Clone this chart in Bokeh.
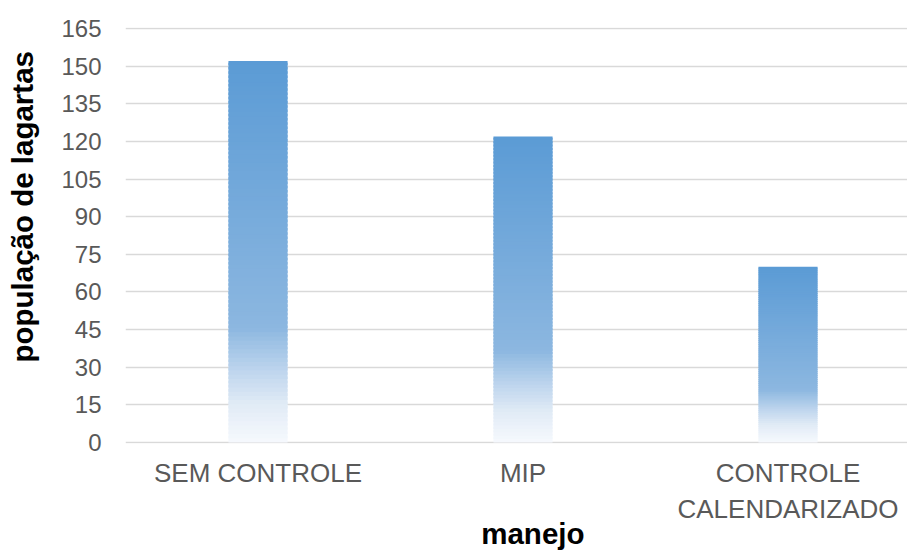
from bokeh.plotting import figure
from bokeh.models import Range1d, FixedTicker, ColumnDataSource
from bokeh.embed import file_html
from bokeh.resources import INLINE

# ---- data ----
categories = ["SEM CONTROLE", "MIP", "CONTROLE\nCALENDARIZADO"]
values = [152, 122, 70]
y_ticks = [0, 15, 30, 45, 60, 75, 90, 105, 120, 135, 150, 165]
x_title = "manejo"
y_title = "população de lagartas"

# ---- style: gradient stops (fraction from top of bar -> rgb) ----
stops = [(0.0, (91, 155, 213)), (0.70, (140, 183, 224)), (0.80, (185, 210, 236)),
         (0.90, (225, 235, 246)), (1.0, (246, 249, 253))]

def grad(f):
    for (f0, c0), (f1, c1) in zip(stops[:-1], stops[1:]):
        if f0 <= f <= f1:
            t = (f - f0) / (f1 - f0) if f1 > f0 else 0
            return "#%02x%02x%02x" % tuple(int(round(a + (b - a) * t)) for a, b in zip(c0, c1))
    return "#%02x%02x%02x" % stops[-1][1]

xs = [i + 0.5 for i in range(len(categories))]
N = 90
bx, bb, bt, bc = [], [], [], []
for x, v in zip(xs, values):
    for i in range(N):
        bot = v * i / N
        top = min(v, v * (i + 1.6) / N)
        bx.append(x); bb.append(bot); bt.append(top)
        bc.append(grad(1 - (i + 0.5) / N))
src = ColumnDataSource(dict(x=bx, bottom=bb, top=bt, color=bc))

W, H = 907, 552
NB = "\u00a0"
p = figure(width=W, height=H, output_backend="svg", toolbar_location=None,
           x_range=Range1d(0, 782 / 265.0), y_range=Range1d(-0.4, 165.4),
           min_border_left=125, min_border_right=0, min_border_top=27, min_border_bottom=109)
p.outline_line_color = None
p.background_fill_color = "white"
p.border_fill_color = "white"

p.vbar(x="x", bottom="bottom", top="top", width=0.223, color="color",
       line_color=None, source=src)

# axes
p.yaxis.ticker = FixedTicker(ticks=y_ticks)
p.xaxis.ticker = FixedTicker(ticks=xs)
p.xaxis.major_label_overrides = {x: c for x, c in zip(xs, categories)}
for ax in (p.xaxis[0], p.yaxis[0]):
    ax.axis_line_color = None
    ax.major_tick_line_color = None
    ax.minor_tick_line_color = None
    ax.major_tick_out = 0
    ax.major_tick_in = 0
    ax.minor_tick_out = 0
    ax.minor_tick_in = 0
    ax.major_label_text_font = "Liberation Sans"
    ax.major_label_text_color = "#595959"
    ax.axis_label_text_font = "Liberation Sans"
    ax.axis_label_text_font_style = "bold"
    ax.axis_label_text_color = "#000000"
    ax.axis_label_text_font_size = "29.5px"
p.yaxis.major_label_text_font_size = "24px"
p.xaxis.major_label_text_font_size = "26px"
p.yaxis.major_label_standoff = 24
p.xaxis.major_label_standoff = 14
p.xaxis.axis_label = NB * 4 + x_title
p.yaxis.axis_label = NB * 7 + y_title
p.xaxis.axis_label_standoff = -10
p.yaxis.axis_label_standoff = 19

p.xgrid.grid_line_color = None
p.ygrid.ticker = FixedTicker(ticks=y_ticks)
p.ygrid.grid_line_color = "#d9d9d9"
p.ygrid.grid_line_width = 1.5

open("out.html", "w").write(file_html(p, INLINE))
